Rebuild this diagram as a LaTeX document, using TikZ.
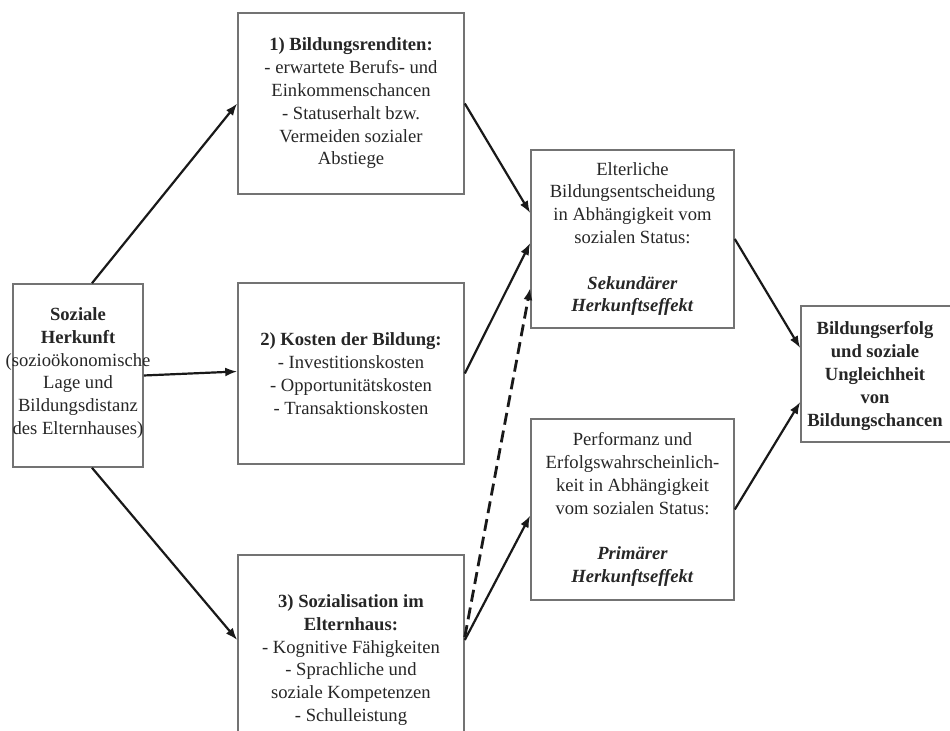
\documentclass[tikz,border=0pt]{standalone}
\usepackage{fontspec}
\setmainfont{Liberation Serif}
\usetikzlibrary{arrows.meta}

\begin{document}
\begin{tikzpicture}[x=0.5pt,y=-0.5pt,
  box/.style={draw=black!55,line width=0.8pt,align=center,inner sep=0pt,text=black!85,
    font=\fontsize{9.3}{11.4}\selectfont},
  pfeil/.style={-{Latex[length=6pt,width=4.5pt]},line width=1.1pt,black!90}]
\useasboundingbox (0,0) rectangle (950,731);
\node[box,minimum width=65pt,minimum height=91.5pt] (herkunft) at (78,375.5){};
\node[box,draw=none] (herkunfttxt) at (78,373){\textbf{Soziale}\\\textbf{Herkunft}\\(sozioökonomische\\Lage und\\Bildungsdistanz\\des Elternhauses)};
\node[box,minimum width=113pt,minimum height=90.5pt] (rendite) at (351,103.5){\textbf{1) Bildungsrenditen:}\\- erwartete Berufs- und\\Einkommenschancen\\- Statuserhalt bzw.\\Vermeiden sozialer\\Abstiege};
\node[box,minimum width=113pt,minimum height=90.5pt] (kosten) at (351,373.5){\textbf{2) Kosten der Bildung:}\\- Investitionskosten\\- Opportunitätskosten\\- Transaktionskosten};
\node[box,minimum width=113pt,minimum height=105pt] (sozial) at (351,660){\textbf{3) Sozialisation im}\\\textbf{Elternhaus:}\\- Kognitive Fähigkeiten\\- Sprachliche und\\soziale Kompetenzen\\- Schulleistung};
\node[box,minimum width=101.5pt,minimum height=89pt] (sek) at (632.5,239){Elterliche\\Bildungsentscheidung\\in Abhängigkeit vom\\sozialen Status:\\[11.4pt]\textbf{\textit{Sekundärer}}\\\textbf{\textit{Herkunftseffekt}}};
\node[box,minimum width=101.5pt,minimum height=90.5pt] (prim) at (632.5,509.5){Performanz und\\Erfolgswahrscheinlich-\\keit in Abhängigkeit\\vom sozialen Status:\\[11.4pt]\textbf{\textit{Primärer}}\\\textbf{\textit{Herkunftseffekt}}};
\node[box,minimum width=77pt,minimum height=68pt] (erfolg) at (878,374){};
\node[box,draw=none] (erfolgtxt) at (875,376){\textbf{Bildungserfolg}\\\textbf{und soziale}\\\textbf{Ungleichheit}\\\textbf{von}\\\textbf{Bildungschancen}};
% Herkunft -> Mechanismen
\draw[pfeil]([xshift=7pt]herkunft.north)--(rendite.west);
\draw[pfeil](herkunft.east)--([yshift=1pt]kosten.west);
\draw[pfeil]([xshift=7pt]herkunft.south)--([yshift=10pt]sozial.west);
% Mechanismen -> Effekte
\draw[pfeil](rendite.east)--([yshift=13pt]sek.west);
\draw[pfeil](kosten.east)--([yshift=-2pt]sek.west);
\draw[pfeil,line width=1.4pt,dash pattern=on 6pt off 3pt](sozial.east)++(0,-23)--([yshift=-24.5pt]sek.west);
\draw[pfeil]([yshift=10pt]sozial.east)--([yshift=-3pt]prim.west);
% Effekte -> Bildungserfolg
\draw[pfeil](sek.east)--([yshift=13pt]erfolg.west);
\draw[pfeil](prim.east)--([yshift=-14pt]erfolg.west);
\end{tikzpicture}
\end{document}
